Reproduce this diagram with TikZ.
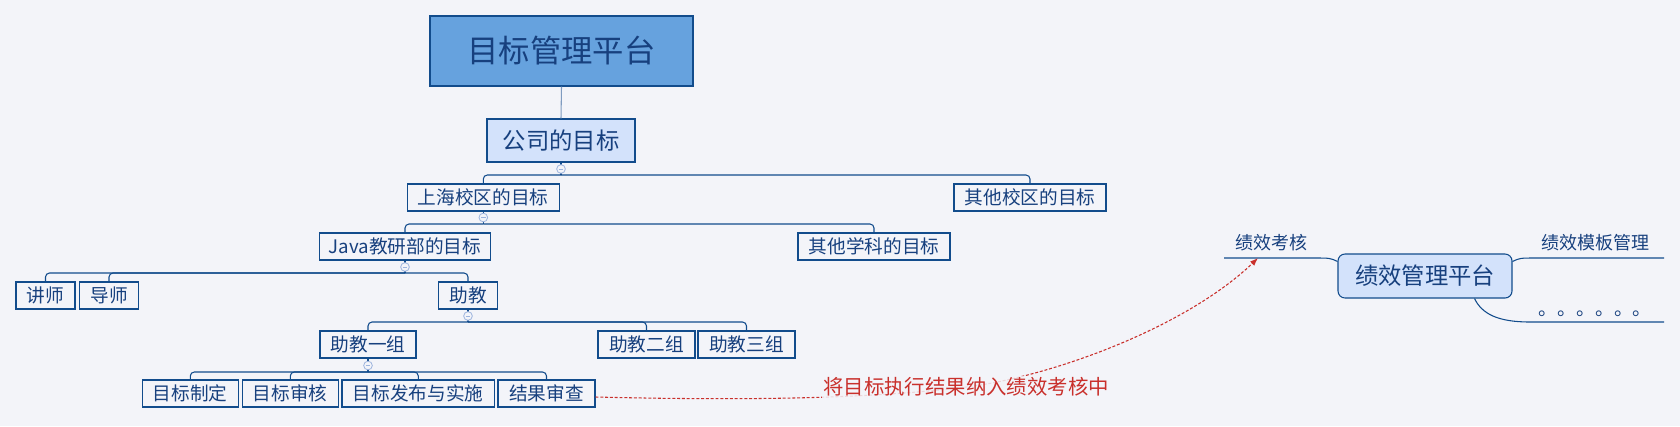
\documentclass[tikz,border=0pt]{standalone}
\usepackage{fontspec}
\setmainfont{Noto Sans CJK SC}
\usetikzlibrary{calc,arrows.meta}
\definecolor{bg}{HTML}{F3F4F9}
\definecolor{navy}{HTML}{124C8C}
\definecolor{txt}{HTML}{17407E}
\definecolor{rootfill}{HTML}{66A2DE}
\definecolor{lightfill}{HTML}{D3E2FB}
\definecolor{circ}{HTML}{9DB4DE}
\definecolor{redc}{HTML}{C9302C}
\definecolor{rootline}{HTML}{7F9BC0}
\tikzset{
  box/.style={draw=navy, line width=0.8pt, fill=bg, text=txt, inner sep=0pt,
    minimum height=20.25pt, font=\fontsize{14}{16}\selectfont},
  conn/.style={draw=navy, line width=0.8pt},
  col/.style={circle, draw=circ, fill=bg, line width=0.6pt, inner sep=0pt, minimum size=6.5pt,
    path picture={\draw[circ, line width=0.5pt] ([xshift=-1.7pt]path picture bounding box.center) -- ([xshift=1.7pt]path picture bounding box.center);}},
  plain/.style={text=txt, inner sep=0pt, font=\fontsize{13.5}{15}\selectfont},
}
\begin{document}
\begin{tikzpicture}[x=0.75pt,y=-0.75pt]
\path[fill=bg] (0,0) rectangle (1680,426);
\useasboundingbox (0,0) rectangle (1680,426);

% nodes
\node[box, fill=rootfill, minimum width=197.25pt, minimum height=52.5pt, font=\fontsize{23.5}{26}\selectfont] (root) at (561.5,51) {目标管理平台};
\node[box, fill=lightfill, minimum width=111pt, minimum height=32.25pt, font=\fontsize{17.5}{20}\selectfont] (co) at (561,140.5) {公司的目标};
\node[box, minimum width=113.6pt] (sh) at (483.3,197.5) {上海校区的目标};
\node[box, minimum width=114pt] (oc) at (1030,197.5) {其他校区的目标};
\node[box, minimum width=127.9pt] (java) at (405,246.5) {Java教研部的目标};
\node[box, minimum width=114pt] (os) at (874,246.5) {其他学科的目标};
\node[box, minimum width=44.25pt] (js) at (45.5,295.5) {讲师};
\node[box, minimum width=44.25pt] (ds) at (109,295.5) {导师};
\node[box, minimum width=44.25pt] (zj) at (468,295.5) {助教};
\node[box, minimum width=72pt] (g1) at (368,344.5) {助教一组};
\node[box, minimum width=72.75pt] (g2) at (646.5,344.5) {助教二组};
\node[box, minimum width=72.75pt] (g3) at (746.5,344.5) {助教三组};
\node[box, minimum width=72.4pt] (t1) at (190.3,393.5) {目标制定};
\node[box, minimum width=72.4pt] (t2) at (290.3,393.5) {目标审核};
\node[box, minimum width=114.5pt] (t3) at (418.3,393.5) {目标发布与实施};
\node[box, minimum width=72.75pt] (t4) at (546.5,393.5) {结果审查};

% tree connectors
\draw[line width=0.8pt, rootline] (root.south) -- (co.north);

\coordinate (j1) at (561,175);
\coordinate (j2) at (483.3,224);
\coordinate (j3) at (405,273);
\coordinate (j4) at (468,322);
\coordinate (j5) at (368,372);

\draw[conn] (co.south) -- (j1);
\draw[conn, rounded corners=3pt] (j1) -| (sh.north);
\draw[conn, rounded corners=3pt] (j1) -| (oc.north);

\draw[conn] (sh.south) -- (j2);
\draw[conn, rounded corners=3pt] (j2) -| (java.north);
\draw[conn, rounded corners=3pt] (j2) -| (os.north);

\draw[conn] (java.south) -- (j3);
\draw[conn, rounded corners=3pt] (j3) -| (js.north);
\draw[conn, rounded corners=3pt] (j3) -| (ds.north);
\draw[conn, rounded corners=3pt] (j3) -| (zj.north);

\draw[conn] (zj.south) -- (j4);
\draw[conn, rounded corners=3pt] (j4) -| (g1.north);
\draw[conn, rounded corners=3pt] (j4) -| (g2.north);
\draw[conn, rounded corners=3pt] (j4) -| (g3.north);

\draw[conn] (g1.south) -- (j5);
\draw[conn, rounded corners=3pt] (j5) -| (t1.north);
\draw[conn, rounded corners=3pt] (j5) -| (t2.north);
\draw[conn, rounded corners=3pt] (j5) -| (t3.north);
\draw[conn, rounded corners=3pt] (j5) -| (t4.north);

% collapse markers
\node[col] (c1) at (561,169) {};
\node[col] (c2) at (483.3,217.5) {};
\node[col] (c3) at (405,267) {};
\node[col] (c4) at (468,316) {};
\node[col] (c5) at (368,365.5) {};

% right side
\node[box, fill=lightfill, rounded corners=5.25pt, minimum width=130.5pt, minimum height=33pt, font=\fontsize{17.5}{20}\selectfont] (pm) at (1425,276) {绩效管理平台};
\node[plain] (kh) at (1271,243) {绩效考核};
\node[plain] (tm) at (1595,243) {绩效模板管理};
\node[plain, anchor=base west, font=\fontsize{14.2}{16}\selectfont] (dots) at (1538,315) {。。。。。。};

\coordinate (pmL) at ($(pm.north west)+(0,8)$);
\coordinate (pmR) at ($(pm.north east)+(0,8)$);
\coordinate (pmB) at ($(pm.south)+(49.5,0)$);
\coordinate (khE) at (1224,258);
\coordinate (tmE) at (1664,258);
\coordinate (dtE) at (1664,322);
\coordinate (khA) at (1258,258);

\draw[conn] (pmL) .. controls (1330,258) .. (1314,258) -- (khE);
\draw[conn] (pmR) .. controls (1520,258) .. (1536,258) -- (tmE);
\draw[conn] (pmB) .. controls (1482,314) and (1498,322) .. (1530,322) -- (dtE);

% red relation
\coordinate (rs) at ($(t4.east)+(0,3.5)$);
\coordinate (lc) at (966,387);
\draw[redc, line width=0.8pt, dash pattern=on 2.2pt off 1.4pt, -{Latex[length=6pt,width=4.5pt]}]
  (rs) .. controls (800,402) and (900,395) .. (lc) .. controls (1050,377) and (1185,328) .. (khA);
\node[fill=bg, fill opacity=0.85, text opacity=1, text=redc, inner sep=1pt, font=\fontsize{15.3}{18}\selectfont] (lbl) at (lc) {将目标执行结果纳入绩效考核中};
\end{tikzpicture}
\end{document}
